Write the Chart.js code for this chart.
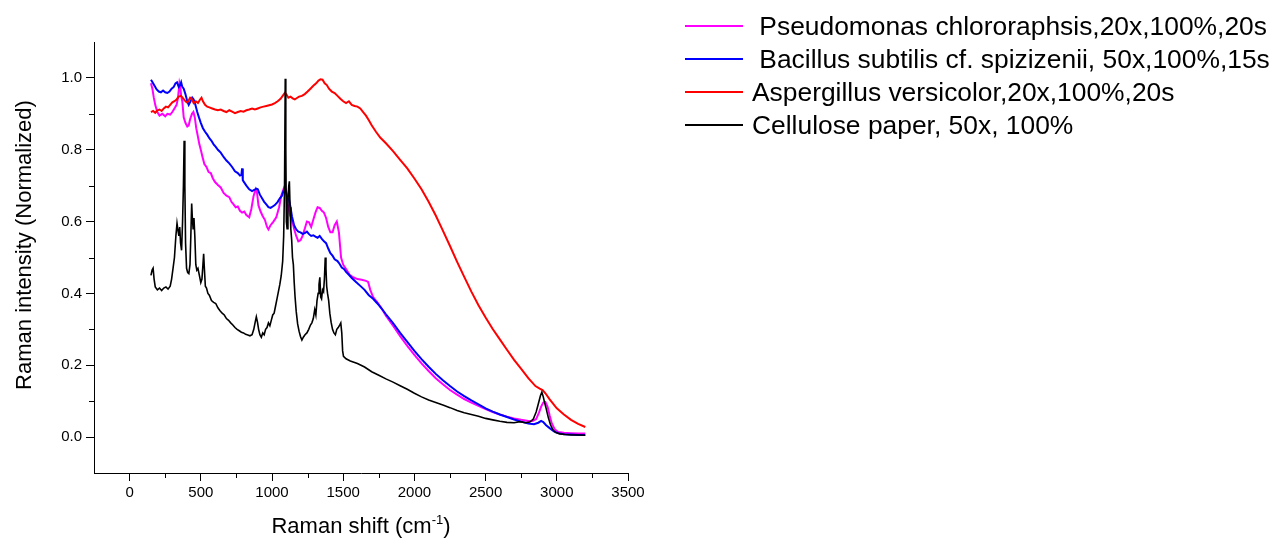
<!DOCTYPE html>
<html>
<head>
<meta charset="utf-8">
<script src="https://cdn.jsdelivr.net/npm/chart.js@4.4.1/dist/chart.umd.min.js"></script>
<style>
  html, body { margin: 0; padding: 0; background: #fff; }
  #wrap { position: relative; width: 1279px; height: 543px; overflow: hidden;
          font-family: "Liberation Sans", Arial, sans-serif; color: #000; }
  #chart { position: absolute; left: 0; top: 0; }
  .key-line { position: absolute; height: 2px; width: 58px; left: 685px; }
  .key-text { position: absolute; left: 752px; font-size: 26.4px; line-height: 26px;
              white-space: pre; }
  .axis-title { position: absolute; font-size: 22px; line-height: 22px; white-space: nowrap;
                text-align: center; width: 400px; }
  .axis-title sup { font-size: 13px; vertical-align: 9px; line-height: 0; }
</style>
</head>
<body>
<div id="wrap">
  <canvas id="chart" width="1279" height="543"></canvas>
  <div class="axis-title" id="xTitle">Raman shift (cm<sup>-1</sup>)</div>
  <div class="axis-title" id="yTitle">Raman intensity (Normalized)</div>
</div>
<script>
// ---- series names (legend order) ----
const seriesNames = [
  " Pseudomonas chlororaphsis,20x,100%,20s",
  " Bacillus subtilis cf. spizizenii, 50x,100%,15s",
  "Aspergillus versicolor,20x,100%,20s",
  "Cellulose paper, 50x, 100%"
];
const seriesColors = ["#ff00ff", "#0000ff", "#ff0000", "#000000"];

// ---- axis ticks ----
const xMajorTicks = [0, 500, 1000, 1500, 2000, 2500, 3000, 3500];
const xMinorTicks = [250, 750, 1250, 1750, 2250, 2750, 3250];
const yMajorTicks = [0, 0.2, 0.4, 0.6, 0.8, 1.0];
const yMinorTicks = [0.1, 0.3, 0.5, 0.7, 0.9];

// ---- Pseudomonas chlororaphsis ----
const pseudoShift = [150,160,170,180,195,210,230,250,265,285,300,315,330,340,350,356,362,370,380,392,405,415,425,438,448,458,468,478,490,500,512,525,540,555,570,585,600,620,640,660,680,700,715,730,745,760,775,790,805,820,840,855,870,885,895,905,920,935,950,965,975,990,1010,1030,1050,1065,1080,1090,1100,1110,1125,1140,1155,1170,1185,1200,1215,1230,1245,1260,1275,1290,1305,1320,1335,1350,1365,1380,1395,1410,1425,1440,1455,1470,1485,1500,1520,1545,1570,1600,1630,1660,1675,1690,1710,1740,1770,1800,1850,1900,1950,2000,2050,2100,2150,2200,2250,2300,2350,2400,2450,2500,2550,2600,2650,2700,2750,2800,2830,2855,2875,2890,2905,2920,2935,2950,2965,2985,3010,3050,3100,3150,3200];
const pseudoInt = [0.985,0.97,0.945,0.925,0.905,0.895,0.900,0.893,0.900,0.898,0.905,0.915,0.925,0.945,0.985,0.975,0.950,0.935,0.890,0.875,0.865,0.868,0.885,0.900,0.905,0.890,0.860,0.840,0.815,0.800,0.780,0.760,0.752,0.738,0.735,0.720,0.710,0.702,0.695,0.680,0.672,0.668,0.655,0.648,0.640,0.642,0.630,0.625,0.628,0.618,0.612,0.635,0.670,0.690,0.680,0.645,0.628,0.615,0.605,0.585,0.578,0.590,0.600,0.612,0.640,0.672,0.690,0.700,0.685,0.650,0.620,0.605,0.580,0.560,0.545,0.548,0.560,0.580,0.600,0.598,0.585,0.605,0.625,0.640,0.638,0.630,0.625,0.610,0.585,0.570,0.570,0.590,0.600,0.570,0.500,0.480,0.468,0.452,0.445,0.440,0.438,0.435,0.432,0.410,0.390,0.375,0.358,0.338,0.310,0.281,0.254,0.229,0.205,0.184,0.164,0.147,0.131,0.118,0.106,0.096,0.087,0.078,0.070,0.063,0.057,0.052,0.048,0.045,0.045,0.050,0.068,0.085,0.096,0.098,0.085,0.060,0.038,0.022,0.014,0.012,0.011,0.010,0.010];

// ---- Bacillus subtilis cf. spizizenii ----
const bacShift = [150,158,165,175,190,205,220,235,250,265,280,295,310,322,333,345,355,362,370,380,392,405,415,428,440,450,462,475,487,500,515,530,545,560,575,590,605,620,640,660,680,700,720,740,760,775,785,790,795,800,820,840,860,875,890,900,915,930,945,960,975,990,1005,1020,1040,1055,1070,1080,1090,1100,1110,1120,1130,1140,1155,1170,1185,1200,1215,1230,1245,1260,1275,1290,1305,1320,1335,1350,1365,1380,1395,1410,1425,1440,1460,1475,1490,1505,1520,1540,1560,1590,1620,1650,1680,1710,1740,1770,1800,1850,1900,1950,2000,2050,2100,2150,2200,2250,2300,2350,2400,2450,2500,2550,2600,2650,2700,2750,2800,2840,2870,2890,2905,2925,2950,2980,3010,3050,3100,3150,3200];
const bacInt = [0.995,0.990,0.985,0.978,0.968,0.962,0.960,0.965,0.960,0.958,0.962,0.970,0.975,0.985,0.988,0.975,0.980,0.988,0.975,0.970,0.955,0.935,0.925,0.935,0.945,0.940,0.925,0.905,0.890,0.875,0.860,0.850,0.842,0.832,0.825,0.815,0.808,0.800,0.792,0.780,0.770,0.762,0.752,0.740,0.735,0.728,0.730,0.748,0.715,0.712,0.700,0.690,0.685,0.688,0.692,0.690,0.675,0.665,0.655,0.648,0.640,0.638,0.642,0.646,0.655,0.665,0.672,0.685,0.692,0.680,0.665,0.660,0.640,0.615,0.590,0.578,0.572,0.570,0.566,0.568,0.572,0.565,0.560,0.562,0.558,0.555,0.560,0.552,0.545,0.540,0.525,0.512,0.505,0.495,0.490,0.482,0.472,0.468,0.460,0.452,0.443,0.432,0.421,0.410,0.395,0.385,0.372,0.358,0.342,0.317,0.290,0.265,0.240,0.217,0.196,0.176,0.158,0.142,0.127,0.114,0.102,0.091,0.080,0.071,0.063,0.056,0.049,0.043,0.038,0.036,0.040,0.045,0.042,0.033,0.025,0.016,0.011,0.008,0.007,0.006,0.006];

// ---- Aspergillus versicolor ----
const aspShift = [150,165,180,195,210,225,240,255,270,285,300,315,330,345,360,372,385,400,412,425,435,450,465,480,495,505,515,530,545,560,580,600,620,640,660,680,700,720,740,760,780,800,820,840,860,880,900,920,940,960,980,1000,1020,1040,1060,1075,1090,1100,1115,1130,1145,1160,1175,1190,1210,1230,1250,1270,1290,1310,1325,1340,1355,1370,1385,1400,1420,1440,1460,1480,1500,1520,1540,1560,1580,1600,1620,1640,1660,1680,1700,1730,1760,1800,1850,1900,1950,2000,2050,2100,2150,2200,2250,2300,2350,2400,2450,2500,2550,2600,2650,2700,2750,2800,2850,2880,2900,2920,2950,3000,3050,3100,3150,3200];
const aspInt = [0.905,0.908,0.903,0.910,0.912,0.908,0.915,0.920,0.918,0.925,0.932,0.935,0.940,0.948,0.950,0.945,0.938,0.932,0.935,0.945,0.942,0.930,0.935,0.930,0.940,0.945,0.935,0.925,0.920,0.918,0.915,0.912,0.910,0.912,0.908,0.905,0.910,0.906,0.902,0.905,0.908,0.906,0.910,0.912,0.915,0.912,0.915,0.918,0.920,0.922,0.924,0.926,0.930,0.935,0.942,0.950,0.958,0.955,0.945,0.948,0.943,0.940,0.944,0.948,0.950,0.955,0.962,0.970,0.978,0.985,0.992,0.996,0.995,0.985,0.980,0.970,0.962,0.958,0.950,0.942,0.935,0.930,0.935,0.925,0.922,0.920,0.915,0.905,0.895,0.882,0.868,0.850,0.834,0.818,0.796,0.772,0.748,0.720,0.690,0.655,0.617,0.575,0.532,0.488,0.446,0.405,0.367,0.333,0.301,0.272,0.243,0.215,0.190,0.164,0.142,0.135,0.131,0.122,0.105,0.080,0.063,0.048,0.037,0.028];

// ---- Cellulose paper ----
const celShift = [150,158,165,172,180,195,210,225,240,255,270,285,295,305,315,325,333,340,346,352,358,365,372,378,383,388,393,400,408,416,424,430,436,440,446,452,458,465,472,480,490,500,508,515,520,525,532,540,550,560,575,590,605,620,635,650,665,680,695,710,725,740,755,770,785,800,815,830,845,860,872,882,890,898,906,915,925,935,945,955,965,975,985,995,1005,1015,1025,1035,1045,1055,1065,1075,1082,1088,1093,1097,1101,1106,1112,1118,1122,1127,1132,1138,1144,1150,1156,1162,1170,1180,1190,1200,1210,1220,1232,1245,1258,1270,1280,1290,1300,1308,1316,1324,1330,1336,1342,1348,1355,1362,1368,1374,1379,1384,1390,1398,1406,1415,1425,1435,1445,1455,1465,1475,1483,1490,1496,1502,1520,1550,1600,1650,1700,1750,1800,1850,1900,1950,2000,2050,2100,2150,2200,2250,2300,2350,2400,2450,2500,2550,2600,2650,2700,2740,2780,2810,2835,2855,2870,2885,2895,2905,2915,2925,2940,2955,2970,2990,3020,3060,3100,3150,3200];
const celInt = [0.450,0.465,0.470,0.440,0.418,0.410,0.415,0.408,0.415,0.418,0.412,0.420,0.440,0.470,0.500,0.560,0.595,0.575,0.560,0.585,0.540,0.520,0.600,0.700,0.825,0.700,0.540,0.470,0.458,0.455,0.480,0.560,0.650,0.615,0.580,0.610,0.560,0.480,0.465,0.470,0.450,0.430,0.440,0.480,0.510,0.470,0.420,0.415,0.400,0.395,0.380,0.375,0.372,0.360,0.352,0.345,0.340,0.330,0.325,0.318,0.312,0.305,0.300,0.296,0.292,0.290,0.286,0.284,0.282,0.285,0.300,0.320,0.335,0.320,0.300,0.285,0.278,0.290,0.285,0.300,0.305,0.318,0.310,0.325,0.340,0.345,0.365,0.385,0.405,0.425,0.450,0.490,0.560,0.700,0.998,0.800,0.600,0.580,0.660,0.700,0.712,0.640,0.580,0.550,0.500,0.480,0.430,0.390,0.350,0.315,0.295,0.280,0.270,0.278,0.285,0.290,0.300,0.312,0.318,0.330,0.355,0.340,0.380,0.400,0.425,0.445,0.390,0.385,0.410,0.405,0.440,0.500,0.470,0.420,0.400,0.380,0.345,0.320,0.300,0.290,0.285,0.300,0.305,0.312,0.318,0.290,0.240,0.225,0.218,0.212,0.205,0.195,0.182,0.172,0.162,0.153,0.143,0.133,0.122,0.112,0.103,0.096,0.089,0.082,0.074,0.068,0.063,0.058,0.052,0.048,0.044,0.041,0.040,0.043,0.040,0.042,0.050,0.070,0.092,0.115,0.125,0.112,0.095,0.080,0.055,0.035,0.022,0.013,0.009,0.007,0.006,0.006,0.005];

const toPoints = (xs, ys) => xs.map((x, i) => ({ x: x, y: ys[i] }));
const shifts = [pseudoShift, bacShift, aspShift, celShift];
const intensities = [pseudoInt, bacInt, aspInt, celInt];
// black on top, then red, blue, magenta underneath
const drawOrder = [3, 2, 1, 0];

const FONT = '"Liberation Sans", Arial, sans-serif';
Chart.defaults.font.family = FONT;
Chart.defaults.color = '#000';

// short minor tick marks on both axes
const minorTickPlugin = {
  id: 'minorTicks',
  afterDraw(chart) {
    const { ctx, chartArea: a, scales: { x, y } } = chart;
    ctx.save();
    ctx.strokeStyle = '#000';
    ctx.lineWidth = 1;
    ctx.beginPath();
    xMinorTicks.forEach(v => {
      const px = Math.round(x.getPixelForValue(v)) + 0.5;
      ctx.moveTo(px, a.bottom);
      ctx.lineTo(px, a.bottom + 5);
    });
    yMinorTicks.forEach(v => {
      const py = Math.round(y.getPixelForValue(v)) + 0.5;
      ctx.moveTo(a.left - 5, py);
      ctx.lineTo(a.left, py);
    });
    ctx.stroke();
    ctx.restore();
  }
};

const chart = new Chart(document.getElementById('chart'), {
  type: 'line',
  data: {
    datasets: seriesNames.map((name, i) => ({
      label: name.trim(),
      data: toPoints(shifts[i], intensities[i]),
      borderColor: seriesColors[i],
      backgroundColor: seriesColors[i],
      borderWidth: i === 3 ? 1.6 : 2,
      pointRadius: 0,
      tension: 0,
      fill: false,
      order: drawOrder[i]
    }))
  },
  options: {
    responsive: false,
    animation: false,
    devicePixelRatio: 1,
    events: [],
    layout: { padding: { left: 0, top: 42, right: 651, bottom: 0 } },
    plugins: { legend: { display: false }, tooltip: { enabled: false } },
    scales: {
      x: {
        type: 'linear',
        min: -250,
        max: 3500,
        afterBuildTicks: s => { s.ticks = xMajorTicks.map(v => ({ value: v })); },
        afterFit: s => { s.height = 70; },
        ticks: { font: { size: 15 }, color: '#000', padding: 3, maxRotation: 0,
                 callback: v => String(v) },
        grid: { drawOnChartArea: false, drawTicks: true, tickLength: 8,
                color: '#000', lineWidth: 1 },
        border: { display: true, color: '#000', width: 1 }
      },
      y: {
        type: 'linear',
        min: -0.1,
        max: 1.1,
        afterBuildTicks: s => { s.ticks = yMajorTicks.map(v => ({ value: v })); },
        afterFit: s => { s.width = 94; },
        ticks: { font: { size: 15 }, color: '#000', padding: 4,
                 callback: v => Number(v).toFixed(1) },
        grid: { drawOnChartArea: false, drawTicks: true, tickLength: 8,
                color: '#000', lineWidth: 1 },
        border: { display: true, color: '#000', width: 1 }
      }
    }
  },
  plugins: [minorTickPlugin]
});

// legend entries
const wrap = document.getElementById('wrap');
const legendRowY = [26, 59, 92, 125];
seriesNames.forEach((name, i) => {
  const line = document.createElement('div');
  line.className = 'key-line';
  line.style.top = (legendRowY[i] - 1) + 'px';
  line.style.background = seriesColors[i];
  wrap.appendChild(line);
  const txt = document.createElement('div');
  txt.className = 'key-text';
  txt.style.top = (legendRowY[i] - 13) + 'px';
  txt.textContent = name;
  wrap.appendChild(txt);
});

// axis titles placed from the chart area
const area = chart.chartArea;
const xTitle = document.getElementById('xTitle');
xTitle.style.left = ((area.left + area.right) / 2 - 200) + 'px';
xTitle.style.top = '515px';
const yTitle = document.getElementById('yTitle');
yTitle.style.left = (24 - 200) + 'px';
yTitle.style.top = (245 - 11) + 'px';
yTitle.style.transform = 'rotate(-90deg)';
</script>
</body>
</html>
